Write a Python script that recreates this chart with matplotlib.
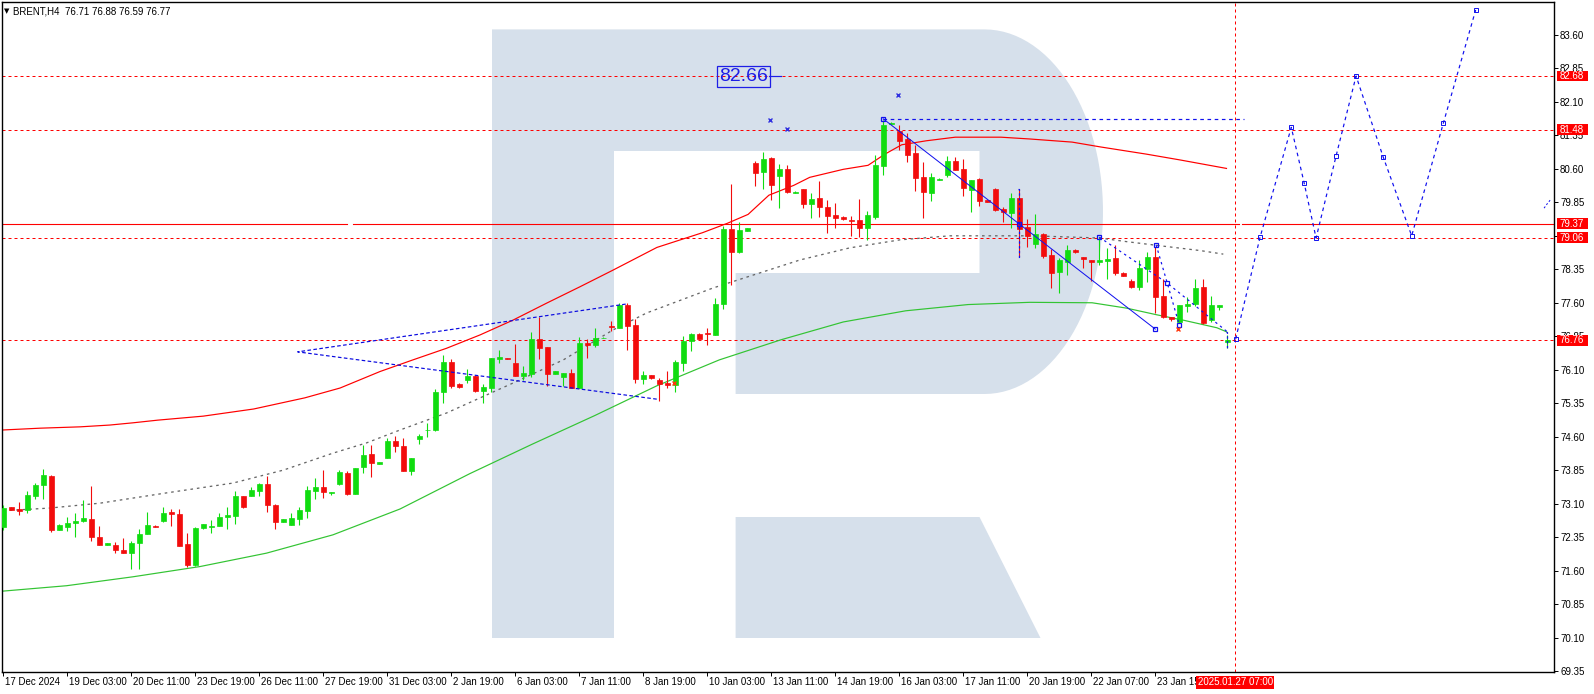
import numpy as np
import matplotlib
matplotlib.use('Agg')
import matplotlib.pyplot as plt
import matplotlib.transforms as mtransforms
from matplotlib.patches import Rectangle, PathPatch
from matplotlib.path import Path

plt.rcParams['font.family'] = ['Liberation Sans', 'DejaVu Sans']

# ---- BRENT H4 candles (one entry per bar, left to right) ----
opens = [72.57, 73.02, 72.98, 72.96, 73.27, 73.52, 73.72, 72.51, 72.58, 72.67,
         72.70, 72.75, 72.35, 72.18, 72.17, 72.05, 71.99, 72.22, 72.43, 72.60,
         72.71, 72.91, 72.87, 72.20, 71.73, 72.56, 72.57, 72.60, 72.79, 72.83,
         73.27, 73.28, 73.39, 73.54, 73.07, 72.69, 72.63, 72.75, 72.94, 73.39,
         73.47, 73.34, 73.55, 73.78, 73.32, 73.91, 74.21, 73.99, 74.13, 74.50,
         74.38, 73.84, 74.55, 74.74, 74.75, 75.59, 76.27, 75.78, 75.87, 75.96,
         75.63, 75.68, 76.35, 76.36, 76.24, 75.97, 76.00, 76.78, 76.60, 76.01,
         75.94, 76.02, 75.69, 76.70, 76.66, 76.81, 77.08, 77.04, 77.55, 77.10,
         75.90, 75.98, 75.87, 75.80, 75.76, 76.26, 76.74, 76.90, 76.92, 76.88,
         77.57, 79.25, 78.74, 79.21, 80.73, 80.53, 80.84, 80.44, 80.60, 80.07,
         80.15, 79.81, 79.95, 79.75, 79.57, 79.52, 79.46, 79.46, 79.28, 79.52,
         80.67, 81.61, 81.45, 81.27, 80.96, 80.42, 80.06, 80.36, 80.46, 80.78,
         80.60, 80.13, 80.37, 79.90, 80.15, 79.70, 79.61, 79.95, 79.30, 78.92,
         79.14, 78.67, 78.29, 78.51, 78.78, 78.63, 78.56, 78.51, 78.54, 78.60,
         78.27, 78.09, 77.95, 78.36, 78.63, 77.75, 77.28, 77.17, 77.53, 77.57,
         77.95, 77.21, 77.51, 76.71]
highs = [73.07, 73.03, 73.13, 73.39, 73.57, 73.87, 73.74, 72.64, 72.79, 72.88,
         73.18, 73.50, 72.60, 72.21, 72.24, 72.33, 72.26, 72.53, 72.91, 72.62,
         73.02, 72.98, 72.98, 72.44, 72.58, 72.64, 72.73, 72.88, 73.02, 73.38,
         73.27, 73.48, 73.57, 73.72, 73.09, 72.76, 72.88, 73.02, 73.50, 73.67,
         73.85, 73.36, 73.85, 73.82, 73.89, 74.41, 74.41, 74.04, 74.56, 74.62,
         74.56, 74.13, 74.66, 74.91, 75.66, 76.43, 76.34, 75.80, 76.12, 75.98,
         75.78, 76.37, 76.54, 76.37, 76.68, 76.18, 76.95, 77.28, 76.60, 76.07,
         76.03, 76.12, 76.83, 76.78, 77.03, 76.84, 77.19, 77.60, 77.59, 77.23,
         76.07, 75.98, 75.92, 76.07, 76.32, 76.86, 76.93, 76.92, 77.04, 77.71,
         79.33, 80.25, 79.41, 79.28, 80.78, 80.98, 80.87, 80.71, 80.69, 80.10,
         80.15, 80.06, 80.33, 79.90, 79.84, 79.54, 79.54, 79.93, 79.66, 80.91,
         81.70, 81.65, 81.58, 81.40, 81.14, 80.75, 80.51, 80.39, 80.89, 80.87,
         80.82, 80.35, 80.40, 79.91, 80.17, 79.75, 80.06, 80.15, 79.48, 79.59,
         79.16, 78.81, 78.60, 78.90, 78.80, 78.63, 78.56, 79.07, 78.83, 78.90,
         78.28, 78.13, 78.56, 78.74, 78.85, 78.13, 77.29, 77.55, 77.73, 78.13,
         78.13, 77.75, 77.55, 76.88]
lows = [72.51, 72.95, 72.85, 72.88, 73.20, 73.20, 72.47, 72.51, 72.49, 72.36,
        72.69, 72.27, 72.18, 72.18, 71.99, 71.99, 71.63, 71.63, 72.42, 72.57,
        72.69, 72.60, 72.16, 71.69, 71.71, 72.53, 72.45, 72.60, 72.53, 72.64,
        73.01, 73.27, 73.27, 72.92, 72.53, 72.69, 72.62, 72.62, 72.78, 73.20,
        73.23, 73.30, 73.52, 73.29, 73.32, 73.79, 73.70, 73.99, 74.12, 74.26,
        73.84, 73.74, 74.44, 74.59, 74.73, 75.36, 75.70, 75.70, 75.81, 75.61,
        75.36, 75.59, 76.26, 76.33, 75.96, 75.87, 75.94, 76.35, 75.74, 76.00,
        75.74, 75.68, 75.69, 76.37, 76.62, 76.80, 76.96, 77.03, 76.54, 75.80,
        75.78, 75.89, 75.41, 75.68, 75.61, 76.06, 76.53, 76.78, 76.66, 76.88,
        77.46, 78.00, 78.72, 79.20, 80.22, 80.15, 79.90, 79.72, 80.06, 80.05,
        79.72, 79.50, 79.52, 79.16, 79.28, 79.46, 79.10, 79.07, 79.01, 79.48,
        80.46, 81.60, 81.02, 80.75, 80.10, 79.50, 79.88, 80.35, 80.42, 80.57,
        79.99, 79.63, 79.77, 79.85, 79.66, 79.41, 79.28, 78.63, 78.85, 78.83,
        78.60, 77.93, 77.82, 78.22, 78.72, 78.38, 78.09, 78.45, 78.13, 78.22,
        78.19, 77.93, 77.89, 78.07, 77.37, 77.26, 77.19, 77.15, 77.39, 77.53,
        77.12, 77.17, 77.44, 76.59]
closes = [73.00, 72.96, 72.94, 73.29, 73.52, 73.74, 72.51, 72.61, 72.66, 72.71,
          72.78, 72.35, 72.18, 72.21, 72.07, 71.99, 72.21, 72.43, 72.61, 72.57,
          72.88, 72.87, 72.16, 71.73, 72.55, 72.64, 72.60, 72.79, 72.85, 73.27,
          73.03, 73.41, 73.54, 73.08, 72.69, 72.76, 72.78, 72.96, 73.41, 73.47,
          73.35, 73.36, 73.81, 73.32, 73.89, 74.19, 74.02, 74.03, 74.50, 74.38,
          73.84, 74.13, 74.62, 74.75, 75.59, 76.27, 75.74, 75.71, 75.97, 75.63,
          75.71, 76.36, 76.39, 76.34, 75.97, 76.02, 76.78, 76.59, 76.01, 76.07,
          76.02, 75.69, 76.70, 76.65, 76.80, 76.82, 77.05, 77.55, 77.09, 75.90,
          75.98, 75.92, 75.79, 75.76, 76.27, 76.74, 76.90, 76.79, 76.89, 77.57,
          79.25, 78.74, 79.23, 79.27, 80.51, 80.82, 80.24, 80.60, 80.08, 80.08,
          79.81, 79.93, 79.75, 79.54, 79.50, 79.48, 79.43, 79.28, 79.57, 80.69,
          81.58, 81.63, 81.23, 80.91, 80.40, 80.08, 80.42, 80.37, 80.77, 80.58,
          80.17, 80.35, 79.88, 79.86, 79.68, 79.63, 79.95, 79.25, 79.10, 79.14,
          78.65, 78.27, 78.56, 78.78, 78.74, 78.58, 78.51, 78.56, 78.58, 78.27,
          78.20, 77.95, 78.38, 78.63, 77.73, 77.28, 77.24, 77.55, 77.57, 77.93,
          77.15, 77.55, 77.55, 76.77]

# ---- moving averages, sampled (bar index, price) ----
ma_red_bar = [0, 4.6, 9.6, 13.3, 16.2, 19.3, 25.0, 31.3, 37.7, 42.1, 47.1, 51.2,
              55.4, 59.6, 63.7, 67.9, 72.1, 76.2, 81.7, 87.4, 90.5, 93.1, 95.7,
              98.8, 100.8, 105.0, 108.1, 110.2, 112.3, 115.4, 119.0, 124.7, 128.3,
              133.6, 137.2, 142.9, 147.1, 152.9]
ma_red_val = [74.75, 74.79, 74.82, 74.86, 74.91, 74.97, 75.06, 75.22, 75.47, 75.69,
              76.06, 76.32, 76.58, 76.88, 77.21, 77.59, 77.96, 78.33, 78.84, 79.17,
              79.38, 79.58, 80.01, 80.23, 80.41, 80.59, 80.68, 80.93, 81.14, 81.23,
              81.31, 81.31, 81.27, 81.20, 81.09, 80.93, 80.80, 80.61]
ma_grey_bar = [0, 5.8, 12.1, 20.4, 28.7, 35.0, 41.2, 45.4, 49.6, 55.4, 63.7, 70.0,
               76.2, 80.4, 88.7, 99.6, 105.8, 112.1, 118.3, 128.7, 137.1, 140.4,
               145.4, 149.6, 152.5]
ma_grey_val = [72.94, 73.00, 73.11, 73.34, 73.56, 73.85, 74.23, 74.46, 74.75, 75.13,
               75.80, 76.32, 76.99, 77.37, 77.93, 78.56, 78.83, 79.01, 79.10, 79.10,
               79.05, 78.97, 78.86, 78.77, 78.69]
ma_green_bar = [0, 7.9, 16.2, 24.6, 32.9, 41.2, 49.6, 58.3, 66.1, 73.9, 81.7, 89.5,
                97.2, 105.0, 112.8, 120.6, 128.3, 136.1, 140.4, 144.2, 147.5, 151.7,
                152.9]
ma_green_val = [71.14, 71.26, 71.46, 71.69, 71.99, 72.40, 72.98, 73.77, 74.43, 75.07,
                75.74, 76.32, 76.77, 77.17, 77.42, 77.56, 77.61, 77.60, 77.48, 77.33,
                77.21, 77.04, 76.95]

# ---- levels ----
dashed_levels = [82.68, 81.48, 79.06, 76.76]
solid_level = 79.37
box_levels = [82.68, 81.48, 79.37, 79.06, 76.76]
now_bar = 154
now_label = '2025.01.27 07:00'

# ---- analysis drawings ----
tri_bar = [77.8, 36.8, 81.7]
tri_val = [77.57, 76.50, 75.44]
trend_bar = [110.0, 144.0]
trend_val = [81.72, 77.01]
trend_pts_bar = [110.0, 127.0, 144.0]
trend_pts_val = [81.72, 79.37, 77.01]
top_line_bar = [110.0, 155.1]
top_line_val = 81.72
wave1_bar = [137.0, 145.5, 153.0]
wave1_val = [79.07, 78.04, 76.95]
wave2_bar = [144.1, 145.5, 147.0]
wave2_val = [78.90, 78.04, 77.10]
bracket_bar = [127.0, 153.0]
bracket_lo = [78.63, 76.57]
bracket_hi = [80.15, 76.94]
fc_bar = [154.05, 157.1, 161.0, 162.6, 164.1, 166.6, 169.1, 172.5, 176.05, 180.0, 184.05]
fc_val = [76.79, 79.07, 81.53, 80.29, 79.05, 80.89, 82.68, 80.86, 79.10, 81.62, 84.16]
xmark_bar = [95.9, 98.0, 111.9]
xmark_val = [81.69, 81.49, 82.25]
omark_bar = [83.9, 146.8]
omark_val = [75.80, 77.01]
price_label = 82.66
price_label_bar = 92.5

# ---- axes labels (last one is cut by the red time box) ----
date_labels = ['17 Dec 2024', '19 Dec 03:00', '20 Dec 11:00', '23 Dec 19:00',
               '26 Dec 11:00', '27 Dec 19:00', '31 Dec 03:00', '2 Jan 19:00',
               '6 Jan 03:00', '7 Jan 11:00', '8 Jan 19:00', '10 Jan 03:00',
               '13 Jan 11:00', '14 Jan 19:00', '16 Jan 03:00', '17 Jan 11:00',
               '20 Jan 19:00', '22 Jan 07:00', '23 Jan 15']
price_ticks = [69.35, 70.10, 70.85, 71.60, 72.35, 73.10, 73.85, 74.60, 75.35, 76.10,
               76.85, 77.60, 78.35, 79.10, 79.85, 80.60, 81.35, 82.10, 82.85, 83.60]

W, H = 1594, 694
FS = 7
fig = plt.figure(figsize=(W / 100, H / 100), dpi=100)
ax = fig.add_axes([2 / W, 22 / H, 1552 / W, 670 / H])
ax.set_xlim(-0.1625, 193.84)
ax.set_ylim(69.327, 84.339)

GREEN = '#10dc10'
RED = '#f20c0c'
BLUE = '#1010ee'
PX = 0.72  # one pixel in points

# watermark logo (figure pixel coords, y down)
pix = mtransforms.Affine2D().scale(1 / W, -1 / H).translate(0, 1) + fig.transFigure
t = np.linspace(-np.pi / 2, np.pi / 2, 60)
arc = np.column_stack([984.5 + 118.5 * np.cos(t), 211.7 + 182.3 * np.sin(t)])
outer = np.vstack([[[492, 29.4]], arc,
                   [[735.6, 394], [735.6, 273], [979.5, 273], [979.5, 151],
                    [614, 151], [614, 638], [492, 638], [492, 29.4]]])
ax.add_patch(PathPatch(Path(outer), transform=pix, fc='#d6e0eb', ec='none', zorder=0))
leg = [[735.6, 517], [979.5, 517], [1040.5, 638], [735.6, 638], [735.6, 517]]
ax.add_patch(PathPatch(Path(leg), transform=pix, fc='#d6e0eb', ec='none', zorder=0))

# levels
for lv in dashed_levels:
    ax.axhline(lv, color='#ff0000', lw=PX, dashes=(3, 3), zorder=2)
for x0, x1 in [(-0.2, 43.0), (43.7, 154.5), (154.9, 194)]:
    ax.plot([x0, x1], [solid_level, solid_level], color='#ff0000', lw=PX * 1.1, zorder=2)
ax.axvline(now_bar, color='#ff0000', lw=PX, dashes=(3, 3), zorder=2)

# moving averages
ax.plot(ma_red_bar, ma_red_val, color='#ff0000', lw=PX * 1.2, zorder=2.5)
ax.plot(ma_green_bar, ma_green_val, color='#33c433', lw=PX * 1.2, zorder=2.5)
ax.plot(ma_grey_bar, ma_grey_val, color='#666666', lw=PX * 1.3, dashes=(2, 3), zorder=2.5)

# candles
bars = np.arange(len(opens))
o, hi, lo, c = map(np.array, (opens, highs, lows, closes))
cols = np.where(c >= o, GREEN, RED)
ax.vlines(bars, lo, hi, colors=cols, lw=PX * 1.1, zorder=3)
ax.bar(bars, np.abs(c - o), bottom=np.minimum(o, c), width=0.62, color=cols,
       edgecolor=cols, linewidth=0.5, zorder=4)

# drawings
ax.plot(tri_bar, tri_val, color='#0a0ae0', lw=PX * 1.2, dashes=(3, 2), zorder=5)
ax.plot(trend_bar, trend_val, color=BLUE, lw=PX, zorder=5)
ax.plot(top_line_bar, [top_line_val] * 2, color=BLUE, lw=PX * 1.2, dashes=(3, 3), zorder=5)
ax.plot(wave1_bar, wave1_val, color=BLUE, lw=PX * 1.2, dashes=(2, 3), zorder=5)
ax.plot(wave2_bar, wave2_val, color=BLUE, lw=PX * 1.2, dashes=(2, 3), zorder=5)
for b, l_, h_ in zip(bracket_bar, bracket_lo, bracket_hi):
    ax.plot([b - 0.2, b, b, b - 0.2], [h_, h_, l_, l_], color=BLUE, lw=PX * 1.2,
            dashes=(2, 2), zorder=5)
ax.plot(fc_bar, fc_val, color=BLUE, lw=PX * 1.2, dashes=(3, 3), zorder=5)
ax.plot(fc_bar, fc_val, ls='none', marker='s', ms=3.2, mfc='none', mec=BLUE, mew=0.7, zorder=5)
ax.plot(trend_pts_bar + wave1_bar[:2] + wave2_bar[:1] + wave2_bar[2:],
        trend_pts_val + wave1_val[:2] + wave2_val[:1] + wave2_val[2:],
        ls='none', marker='s', ms=3.5, mfc='none', mec=BLUE, mew=0.9, zorder=5)
ax.plot(xmark_bar, xmark_val, ls='none', marker='x', ms=3.5, mec='#3030e0', mew=1, zorder=5)
ax.plot(omark_bar, omark_val, ls='none', marker='x', ms=3.5, mec='#ff3a10', mew=1, zorder=5)
ax.plot([192.6, 193.0, 193.5], [79.72, 79.82, 79.93], color=BLUE, lw=PX, dashes=(2, 2), zorder=5)

ax.text(price_label_bar, price_label, f'{price_label:.2f}', fontsize=14, color='#1e1ee6',
        ha='center', va='center', zorder=6,
        bbox=dict(boxstyle='square,pad=0.1', fc='none', ec='#1e1ee6', lw=0.9))
ax.plot([95.75, 97.2], [price_label + 0.02] * 2, color='#1e1ee6', lw=PX * 1.2, zorder=6)

# axes styling
for s in ax.spines.values():
    s.set_color('black')
    s.set_linewidth(1.0)
ax.yaxis.tick_right()
ax.set_yticks(price_ticks)
ax.set_yticklabels([f'{v:.2f}' for v in price_ticks])
ax.tick_params(axis='y', length=2.6, width=0.7, pad=1.8, labelsize=FS, colors='black')
ax.set_xticks([8 * k for k in range(len(date_labels))])
ax.set_xticklabels([])
ax.tick_params(axis='x', length=3.2, width=0.7)
for k, lab in enumerate(date_labels):
    ax.text(8 * k + 0.2, -0.0155, lab, transform=ax.get_xaxis_transform(), ha='left',
            va='center', fontsize=FS, clip_on=False, zorder=3)

ax.text(now_bar, -0.0155, now_label, transform=ax.get_xaxis_transform(), ha='center',
        va='center', fontsize=FS, color='white', clip_on=False, zorder=8,
        bbox=dict(boxstyle='square,pad=0.15', fc='#ff0000', ec='none'))

ytr = ax.get_yaxis_transform()
for lv in box_levels:
    ax.add_patch(Rectangle((1 + 2.5 / 1552, lv - 0.12), 31 / 1552, 0.24, transform=ytr,
                           fc='#ff0000', ec='none', clip_on=False, zorder=7))
    ax.text(1 + 18 / 1552, lv, f'{lv:.2f}', transform=ytr, ha='center', va='center',
            fontsize=FS, color='white', clip_on=False, zorder=8)

# header
fig.text(6.6 / W, 1 - 11 / H, '\u25bc', fontsize=5, ha='center', va='center',
         family='DejaVu Sans')
fig.text(12.7 / W, 1 - 11 / H,
         f'BRENT,H4  {opens[-1]:.2f} {highs[-1]:.2f} {lows[-1]:.2f} {closes[-1]:.2f}',
         fontsize=FS, ha='left', va='center')

fig.savefig('out.png', dpi=100)
